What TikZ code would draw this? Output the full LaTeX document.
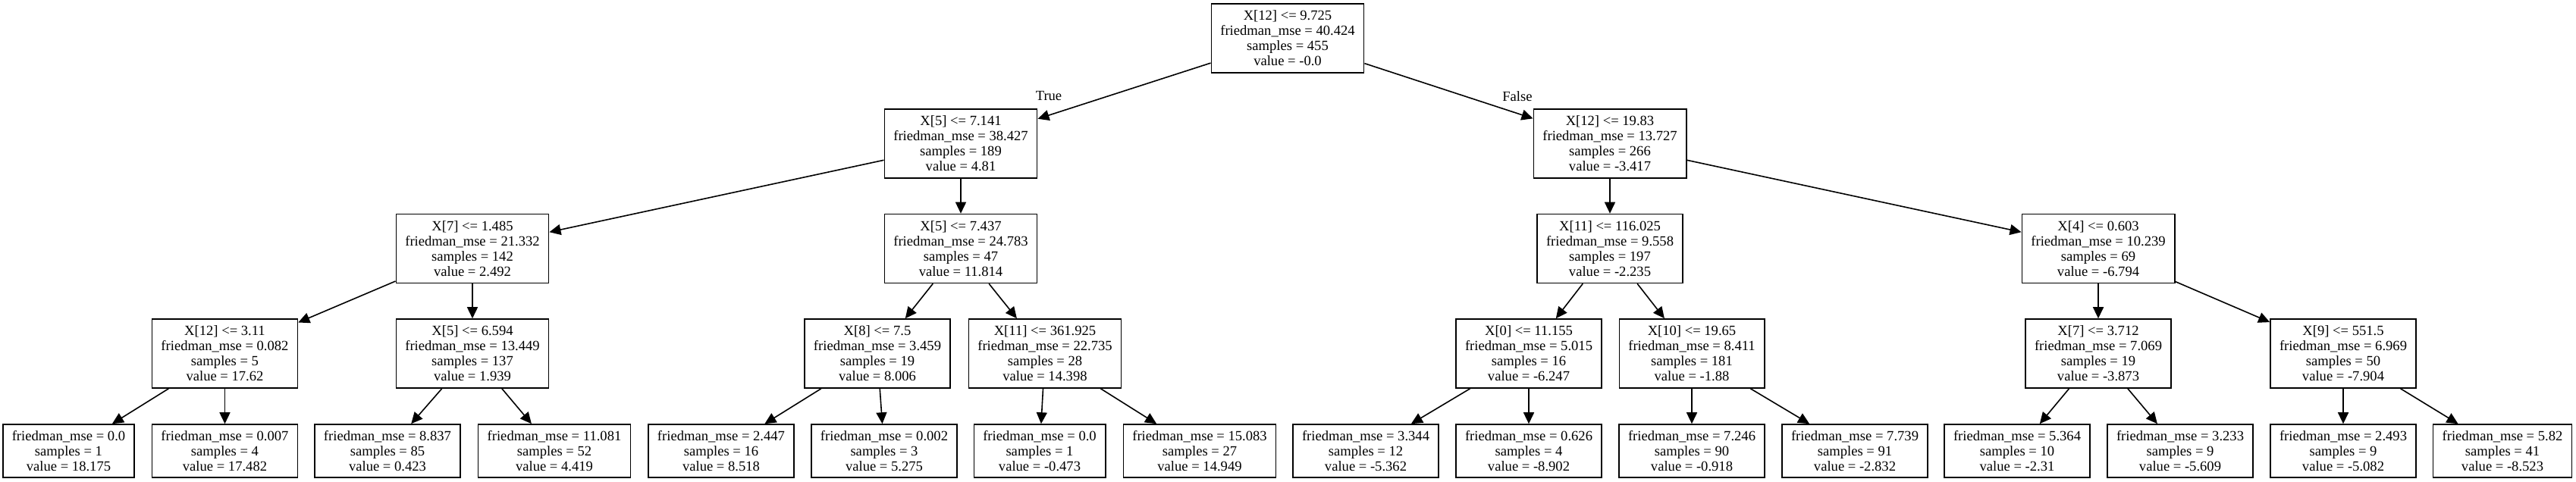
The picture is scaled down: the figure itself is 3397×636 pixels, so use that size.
\documentclass[tikz,border=0pt]{standalone}
\usepackage{fontspec}
\setmainfont{Liberation Serif}
\usepackage{tikz}
\usetikzlibrary{arrows.meta,positioning}

\tikzset{
  split/.style={draw, rectangle, line width=0.8pt, align=center, inner xsep=6pt, inner ysep=0pt,
    minimum height=45.5pt, font=\fontsize{9.3}{10}\selectfont},
  leaf/.style={split, minimum height=35pt},
  branch/.style={line width=0.8pt, -{Triangle[length=7.5pt,width=7pt]}},
  lbl/.style={font=\fontsize{9.3}{10}\selectfont}
}

\begin{document}
\begin{tikzpicture}[x=0.5pt,y=-0.5pt]
	\useasboundingbox (0,0) rectangle (3397,636);
	% root
	\node[split] (n0) at (1698,50.5) {X[12] <= 9.725\\friedman\_mse = 40.424\\samples = 455\\value = -0.0};
	% depth 1
	\node[split] (n1) at (1267,189.5) {X[5] <= 7.141\\friedman\_mse = 38.427\\samples = 189\\value = 4.81};
	\node[split] (n2) at (2123,189.5) {X[12] <= 19.83\\friedman\_mse = 13.727\\samples = 266\\value = -3.417};
	% depth 2
	\node[split] (n3) at (623,328) {X[7] <= 1.485\\friedman\_mse = 21.332\\samples = 142\\value = 2.492};
	\node[split] (n4) at (1267,328) {X[5] <= 7.437\\friedman\_mse = 24.783\\samples = 47\\value = 11.814};
	\node[split] (n5) at (2123,328) {X[11] <= 116.025\\friedman\_mse = 9.558\\samples = 197\\value = -2.235};
	\node[split] (n6) at (2767,328) {X[4] <= 0.603\\friedman\_mse = 10.239\\samples = 69\\value = -6.794};
	% depth 3
	\node[split] (n7) at (296.5,466.5) {X[12] <= 3.11\\friedman\_mse = 0.082\\samples = 5\\value = 17.62};
	\node[split] (n8) at (623,466.5) {X[5] <= 6.594\\friedman\_mse = 13.449\\samples = 137\\value = 1.939};
	\node[split] (n9) at (1157,466.5) {X[8] <= 7.5\\friedman\_mse = 3.459\\samples = 19\\value = 8.006};
	\node[split] (n10) at (1378,466.5) {X[11] <= 361.925\\friedman\_mse = 22.735\\samples = 28\\value = 14.398};
	\node[split] (n11) at (2016,466.5) {X[0] <= 11.155\\friedman\_mse = 5.015\\samples = 16\\value = -6.247};
	\node[split] (n12) at (2231,466.5) {X[10] <= 19.65\\friedman\_mse = 8.411\\samples = 181\\value = -1.88};
	\node[split] (n13) at (2767,466.5) {X[7] <= 3.712\\friedman\_mse = 7.069\\samples = 19\\value = -3.873};
	\node[split] (n14) at (3090,466.5) {X[9] <= 551.5\\friedman\_mse = 6.969\\samples = 50\\value = -7.904};
	% leaves
	\node[leaf] (l1) at (90.5,595) {friedman\_mse = 0.0\\samples = 1\\value = 18.175};
	\node[leaf] (l2) at (296.5,595) {friedman\_mse = 0.007\\samples = 4\\value = 17.482};
	\node[leaf] (l3) at (511,595) {friedman\_mse = 8.837\\samples = 85\\value = 0.423};
	\node[leaf] (l4) at (731,595) {friedman\_mse = 11.081\\samples = 52\\value = 4.419};
	\node[leaf] (l5) at (951,595) {friedman\_mse = 2.447\\samples = 16\\value = 8.518};
	\node[leaf] (l6) at (1166,595) {friedman\_mse = 0.002\\samples = 3\\value = 5.275};
	\node[leaf] (l7) at (1371,595) {friedman\_mse = 0.0\\samples = 1\\value = -0.473};
	\node[leaf] (l8) at (1582,595) {friedman\_mse = 15.083\\samples = 27\\value = 14.949};
	\node[leaf] (l9) at (1801,595) {friedman\_mse = 3.344\\samples = 12\\value = -5.362};
	\node[leaf] (l10) at (2016,595) {friedman\_mse = 0.626\\samples = 4\\value = -8.902};
	\node[leaf] (l11) at (2231,595) {friedman\_mse = 7.246\\samples = 90\\value = -0.918};
	\node[leaf] (l12) at (2446,595) {friedman\_mse = 7.739\\samples = 91\\value = -2.832};
	\node[leaf] (l13) at (2660,595) {friedman\_mse = 5.364\\samples = 10\\value = -2.31};
	\node[leaf] (l14) at (2875,595) {friedman\_mse = 3.233\\samples = 9\\value = -5.609};
	\node[leaf] (l15) at (3090,595) {friedman\_mse = 2.493\\samples = 9\\value = -5.082};
	\node[leaf] (l16) at (3300,595) {friedman\_mse = 5.82\\samples = 41\\value = -8.523};
	% branch labels
	\node[lbl] (tlabel) at (1383,127) {True};
	\node[lbl] (flabel) at (2001,127) {False};
	% edges
	\draw[branch] (n0) -- (n1);
	\draw[branch] (n0) -- (n2);
	\draw[branch] (n1) -- (n3);
	\draw[branch] (n1) -- (n4);
	\draw[branch] (n2) -- (n5);
	\draw[branch] (n2) -- (n6);
	\draw[branch] (n3) -- (n7);
	\draw[branch] (n3) -- (n8);
	\draw[branch] (n4) -- (n9);
	\draw[branch] (n4) -- (n10);
	\draw[branch] (n5) -- (n11);
	\draw[branch] (n5) -- (n12);
	\draw[branch] (n6) -- (n13);
	\draw[branch] (n6) -- (n14);
	\draw[branch] (n7) -- (l1);
	\draw[branch] (n7) -- (l2);
	\draw[branch] (n8) -- (l3);
	\draw[branch] (n8) -- (l4);
	\draw[branch] (n9) -- (l5);
	\draw[branch] (n9) -- (l6);
	\draw[branch] (n10) -- (l7);
	\draw[branch] (n10) -- (l8);
	\draw[branch] (n11) -- (l9);
	\draw[branch] (n11) -- (l10);
	\draw[branch] (n12) -- (l11);
	\draw[branch] (n12) -- (l12);
	\draw[branch] (n13) -- (l13);
	\draw[branch] (n13) -- (l14);
	\draw[branch] (n14) -- (l15);
	\draw[branch] (n14) -- (l16);
\end{tikzpicture}
\end{document}
